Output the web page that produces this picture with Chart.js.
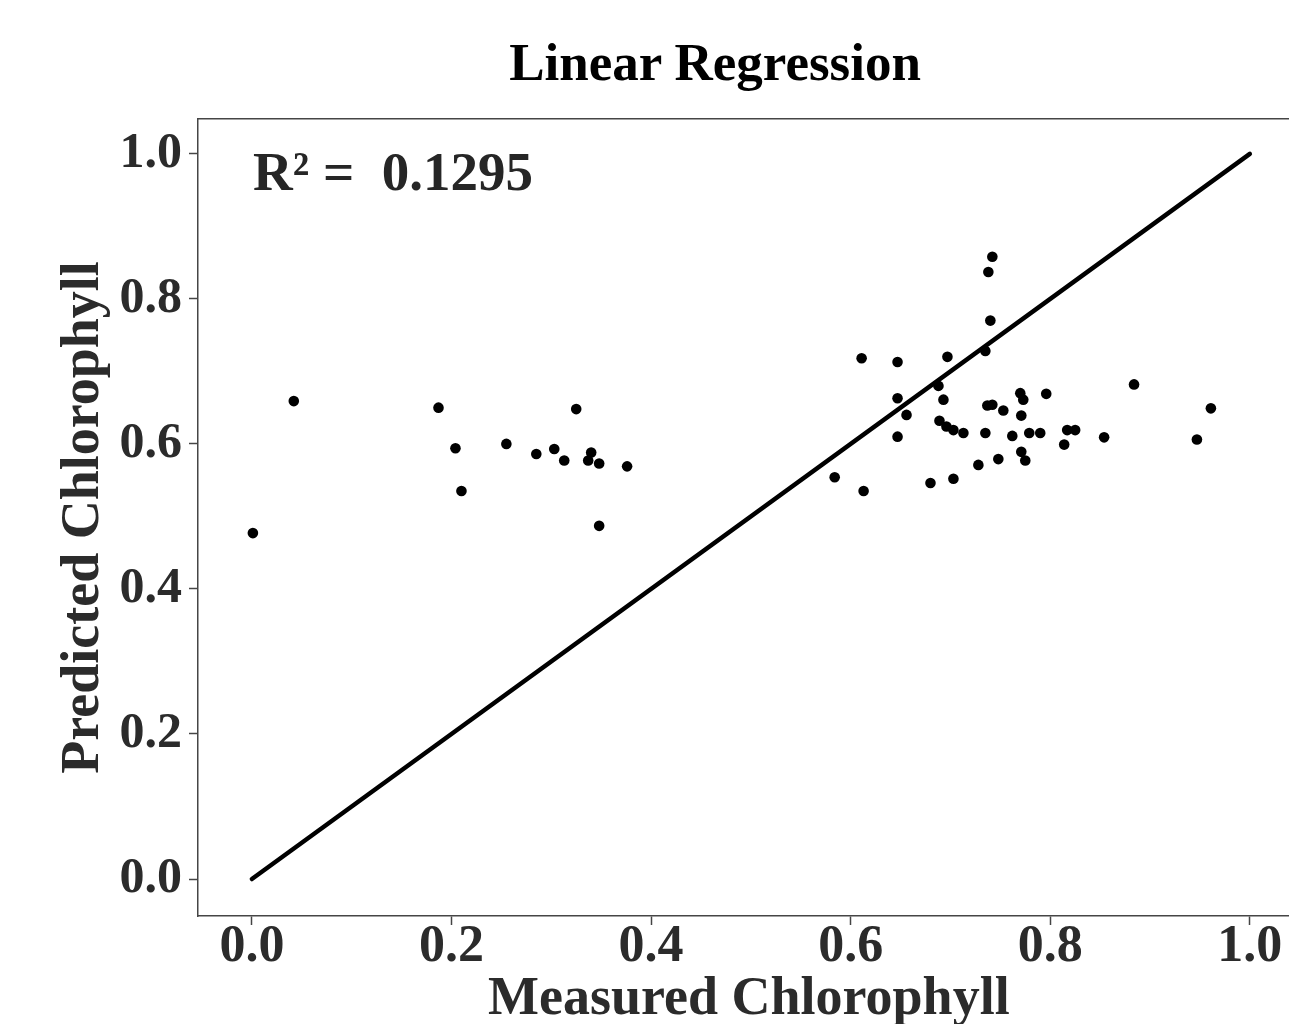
<!DOCTYPE html>
<html>
<head>
<meta charset="utf-8">
<script src="https://cdn.jsdelivr.net/npm/chart.js@4/dist/chart.umd.min.js"></script>
<style>
  html, body { margin: 0; padding: 0; background: #fff; overflow: hidden; width: 1289px; height: 1024px; }
  #wrap { position: relative; width: 1289px; height: 1024px; overflow: hidden; }
  #c { position: absolute; left: 0; top: 0; }
  .title { position: absolute; left: 0; width: 1430px; top: 36px; text-align: center;
           font: bold 53px/53px "Liberation Serif", "Times New Roman", serif; color: #000; white-space: pre; }
  .r2 { position: absolute; left: 253px; top: 144px; font: bold 55px/55px "Liberation Serif", "Times New Roman", serif;
        color: #262626; white-space: pre; }
</style>
</head>
<body>
<div id="wrap">
  <canvas id="c" width="1305" height="1024"></canvas>
  <div class="title">Linear Regression</div>
  <div class="r2">R² =  0.1295</div>
</div>
<script>
const measured = [0.042, 0.001, 0.187, 0.204, 0.210, 0.255, 0.285, 0.303, 0.313, 0.325, 0.340, 0.337, 0.348, 0.348, 0.376,
  0.742, 0.738, 0.740, 0.735, 0.611, 0.647, 0.697, 0.688, 0.647, 0.693, 0.656, 0.647, 0.770, 0.773, 0.796,
  0.737, 0.742, 0.753, 0.771, 0.689, 0.696, 0.703, 0.713, 0.735, 0.762, 0.779, 0.790, 0.817, 0.825, 0.814,
  0.854, 0.884, 0.961, 0.947, 0.771, 0.775, 0.748, 0.728, 0.584, 0.613, 0.680, 0.703];
const predicted = [0.659, 0.477, 0.650, 0.594, 0.535, 0.600, 0.586, 0.593, 0.577, 0.648, 0.588, 0.577, 0.573, 0.487, 0.569,
  0.858, 0.837, 0.770, 0.728, 0.718, 0.713, 0.720, 0.680, 0.663, 0.661, 0.640, 0.610, 0.670, 0.661, 0.669,
  0.653, 0.654, 0.646, 0.639, 0.632, 0.624, 0.619, 0.615, 0.615, 0.611, 0.615, 0.615, 0.619, 0.619, 0.599,
  0.609, 0.682, 0.649, 0.606, 0.589, 0.577, 0.579, 0.571, 0.554, 0.535, 0.546, 0.552];
const lineX = [0, 1];
const lineY = [0, 1];
const xTicks = [0, 0.2, 0.4, 0.6, 0.8, 1.0];
const yTicks = [0, 0.2, 0.4, 0.6, 0.8, 1.0];
const xLabel = "Measured Chlorophyll";
const yLabel = "Predicted Chlorophyll";

const serif = '"Liberation Serif", "Times New Roman", serif';
const textCol = '#2b2b2b';
const frameCol = '#454545';

const scatterData = measured.map((x, i) => ({ x: x, y: predicted[i] }));
const lineData = lineX.map((x, i) => ({ x: x, y: lineY[i] }));

new Chart(document.getElementById('c'), {
  type: 'scatter',
  data: {
    datasets: [
      { type: 'line', data: lineData, borderColor: '#000', borderWidth: 4.5, pointRadius: 0,
        borderCapStyle: 'round', fill: false, xAxisID: 'x', yAxisID: 'y', order: 2 },
      { data: scatterData, backgroundColor: '#000', borderWidth: 0, pointRadius: 5.3,
        xAxisID: 'x', yAxisID: 'y', order: 1 }
    ]
  },
  options: {
    responsive: false,
    animation: false,
    devicePixelRatio: 1,
    layout: { padding: { top: 119, left: 0, right: 0, bottom: 0 } },
    plugins: { legend: { display: false }, tooltip: { enabled: false }, title: { display: false } },
    scales: {
      x: {
        type: 'linear', position: 'bottom', min: -0.054, max: 1.05,
        afterBuildTicks: s => { s.ticks = xTicks.map(v => ({ value: v })); },
        afterFit: s => { s.height = 108; },
        ticks: { callback: v => Number(v).toFixed(1), color: textCol, padding: 2,
                 font: { family: serif, size: 52, weight: 'bold', lineHeight: 0.8 }, maxRotation: 0, autoSkip: false },
        grid: { drawOnChartArea: false, drawTicks: true, tickLength: 9, tickColor: frameCol, tickWidth: 1.5 },
        border: { display: true, color: frameCol, width: 1.5 },
        title: { display: true, text: xLabel, color: textCol, padding: { top: 0, bottom: 0 },
                 font: { family: serif, size: 54, weight: 'bold', lineHeight: 0.9 } }
      },
      x2: {
        type: 'linear', position: 'top', min: -0.054, max: 1.05,
        afterFit: s => { s.height = 0; },
        ticks: { display: false },
        grid: { display: false, drawTicks: false },
        border: { display: true, color: frameCol, width: 1.5 }
      },
      y: {
        type: 'linear', position: 'left', min: -0.051, max: 1.048,
        afterBuildTicks: s => { s.ticks = yTicks.map(v => ({ value: v })); },
        afterFit: s => { s.width = 198; },
        ticks: { callback: v => Number(v).toFixed(1), color: textCol, padding: 7,
                 font: { family: serif, size: 50, weight: 'bold' }, autoSkip: false },
        grid: { drawOnChartArea: false, drawTicks: true, tickLength: 9, tickColor: frameCol, tickWidth: 1.5 },
        border: { display: true, color: frameCol, width: 1.5 },
        title: { display: true, text: yLabel, color: textCol, padding: { top: 57, bottom: 0 },
                 font: { family: serif, size: 54, weight: 'bold', lineHeight: 1 } }
      }
    }
  }
});
</script>
</body>
</html>
